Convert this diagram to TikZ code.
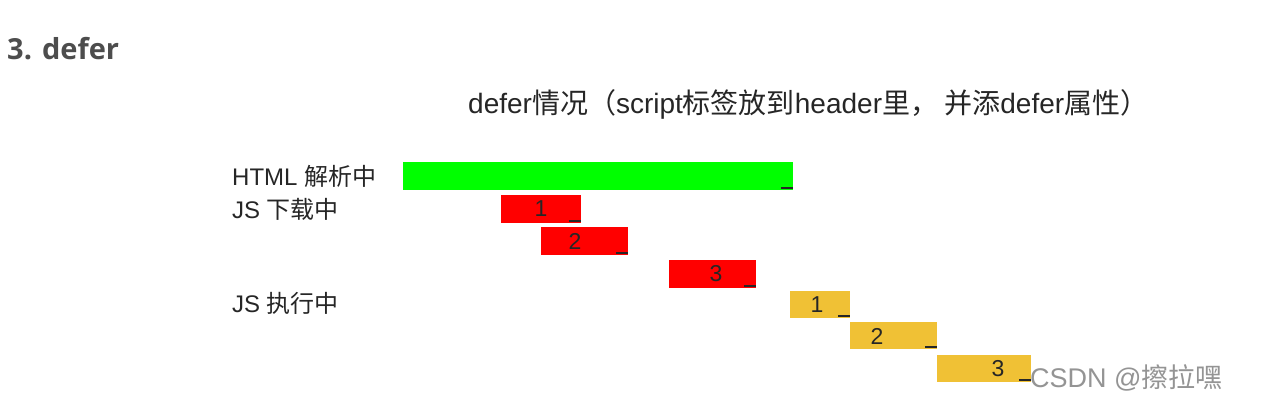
\documentclass[tikz,border=0pt]{standalone}
\usepackage{fontspec}
\setmainfont{Liberation Sans}
\newfontfamily\cjk{Noto Sans CJK SC}
\newfontfamily\headfont{Open Sans}
\begin{document}
\begin{tikzpicture}[x=1pt,y=-1pt,
  lbl/.style={anchor=west,inner sep=0pt,font=\fontsize{24}{28}\selectfont,text=black!85},
  bar/.style={anchor=north west,inner sep=0pt,minimum height=28pt},
  num/.style={inner sep=0pt,font=\fontsize{23}{27}\selectfont,text=black!85},
  us/.style={line width=1.3pt,black!85}]
\definecolor{gbar}{HTML}{00FF00}
\definecolor{rbar}{HTML}{FF0000}
\definecolor{ybar}{HTML}{F0C135}
\definecolor{headc}{HTML}{4D4D4D}
\useasboundingbox[fill=white] (0,0) rectangle (1261,412);
\node[anchor=west,inner sep=0pt,font=\headfont\bfseries\fontsize{29}{33}\selectfont,text=headc] (head) at (7,49) {3. defer};
\node[anchor=west,inner sep=0pt,font=\fontsize{28}{32}\selectfont,text=black!85] (title) at (468,104) {defer{\cjk 情况（}script{\cjk 标签放到}header{\cjk 里， 并添}defer{\cjk 属性}{\cjk ）}};
\node[lbl] (l1) at (232,176) {HTML {\cjk 解析中}};
\node[lbl] (l2) at (232,209) {JS {\cjk 下载中}};
\node[lbl] (l3) at (232,303) {JS {\cjk 执行中}};
% bars
\node[bar,fill=gbar,minimum width=390pt] (g) at (403,162) {};
\node[bar,fill=rbar,minimum width=80pt] (r1) at (501,195) {};
\node[bar,fill=rbar,minimum width=87pt] (r2) at (541,227) {};
\node[bar,fill=rbar,minimum width=87pt] (r3) at (669,260) {};
\node[bar,fill=ybar,minimum width=60pt,minimum height=27pt] (y1) at (790,291) {};
\node[bar,fill=ybar,minimum width=87pt,minimum height=27pt] (y2) at (850,322) {};
\node[bar,fill=ybar,minimum width=94pt,minimum height=27pt] (y3) at (937,355) {};
% numbers
\node[num] (n1) at (541,209) {1};
\node[num] (n2) at (575,241) {2};
\node[num] (n3) at (716,274) {3};
\node[num] (n4) at (817,305) {1};
\node[num] (n5) at (877,336) {2};
\node[num] (n6) at (998,369) {3};
% underscores
\foreach \b in {g,r1,r2,r3,y1,y2,y3}
  \draw[us] ([xshift=-12pt,yshift=2.5pt]\b.south east) -- ([yshift=2.5pt]\b.south east);
\node[anchor=west,inner sep=0pt,font=\fontsize{27}{31}\selectfont,text=black!42] (wm) at (1030,378) {CSDN @{\cjk 擦拉嘿}};
\end{tikzpicture}
\end{document}
